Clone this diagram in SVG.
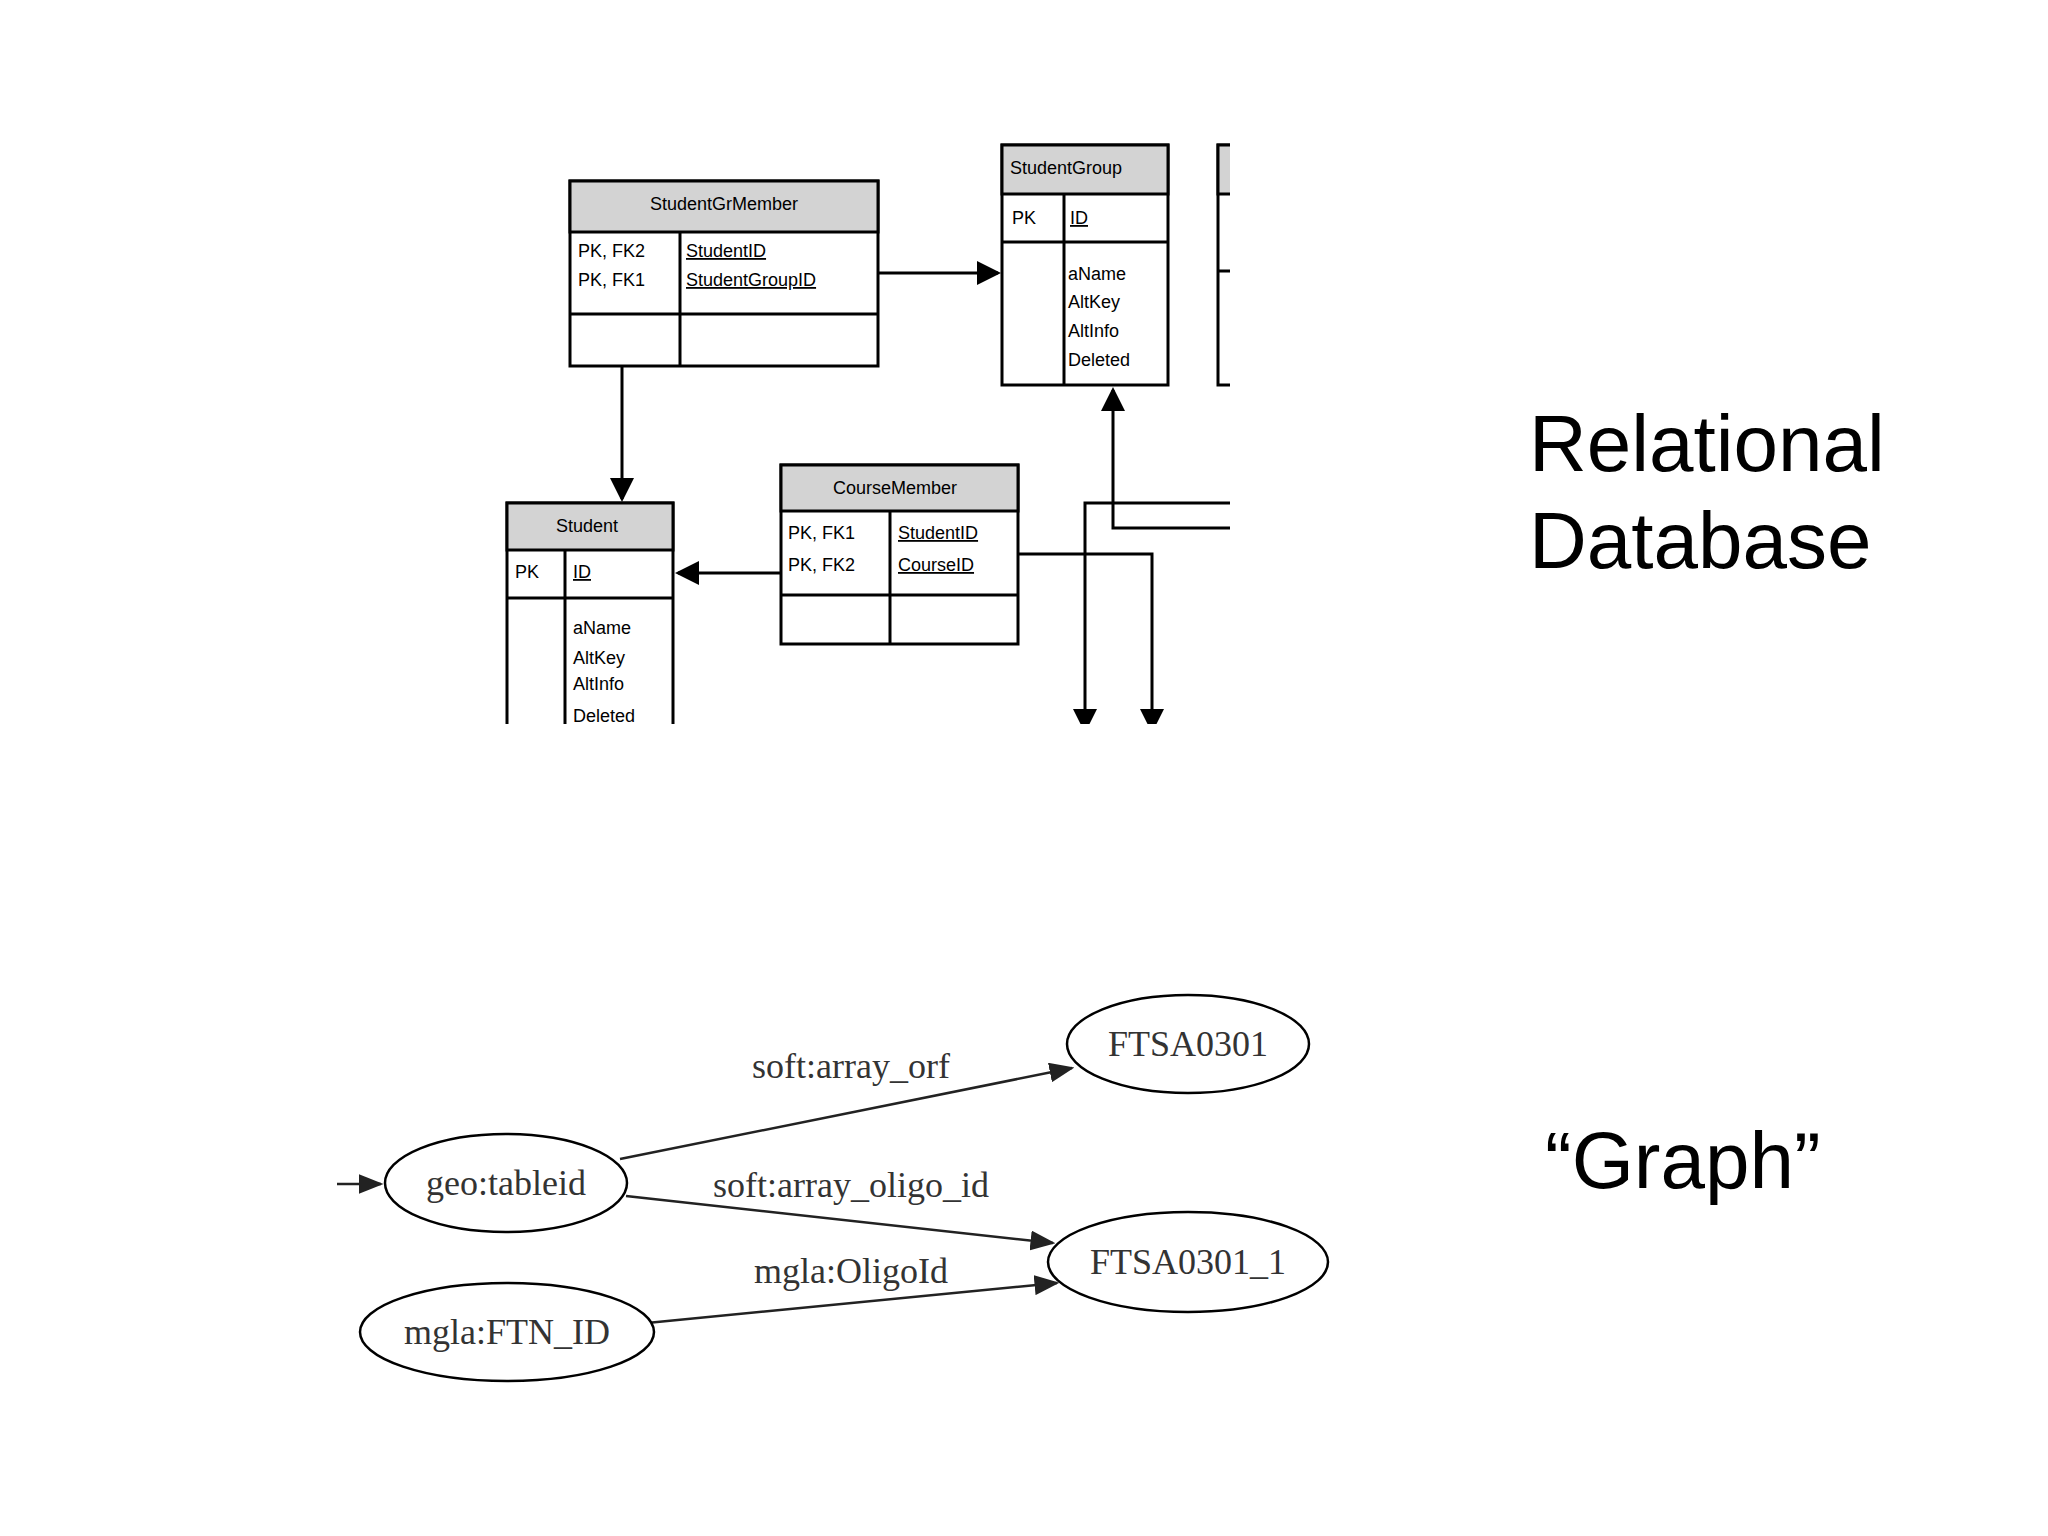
<svg xmlns="http://www.w3.org/2000/svg" width="2048" height="1536" viewBox="0 0 2048 1536">
<style>
.b{fill:#fff;stroke:#000;stroke-width:3}
.h{fill:#d3d3d3;stroke:#000;stroke-width:3}
.l{stroke:#000;stroke-width:3;fill:none}
.t{font-family:"Liberation Sans",Arial,sans-serif;font-size:18px;fill:#000}
.u{text-decoration:underline}
.e{fill:#fff;stroke:#000;stroke-width:2.5}
.g{font-family:"Liberation Serif","Times New Roman",serif;font-size:36px;fill:#333}
.gl{stroke:#222;stroke-width:2.5;fill:none}
.big{font-family:"Liberation Sans",Arial,sans-serif;font-size:80px;fill:#000}
</style>
<defs>
<marker id="a" markerWidth="8" markerHeight="8" refX="7" refY="4" orient="auto" markerUnits="strokeWidth"><path d="M0,0L8,4L0,8z" fill="#000"/></marker>
<marker id="ga" markerWidth="10" markerHeight="8" refX="9" refY="4" orient="auto" markerUnits="strokeWidth"><path d="M0,0L10,4L0,8z" fill="#222"/></marker>
<clipPath id="c"><rect x="0" y="0" width="1230" height="724"/></clipPath>
</defs>
<rect width="2048" height="1536" fill="#fff"/>
<g clip-path="url(#c)">
<g id="connectors">
<line class="l" x1="878" y1="273" x2="998" y2="273" marker-end="url(#a)"/>
<line class="l" x1="622" y1="366" x2="622" y2="499" marker-end="url(#a)"/>
<line class="l" x1="781" y1="573" x2="678" y2="573" marker-end="url(#a)"/>
<polyline class="l" points="1240,528 1113,528 1113,390" marker-end="url(#a)"/>
<polyline class="l" points="1240,503 1085,503 1085,730" marker-end="url(#a)"/>
<polyline class="l" points="1018,554 1152,554 1152,730" marker-end="url(#a)"/>
</g>
<g id="StudentGrMember">
<rect class="b" x="570" y="181" width="308" height="185"/>
<rect class="h" x="570" y="181" width="308" height="51"/>
<line class="l" x1="680" y1="232" x2="680" y2="366"/><line class="l" x1="570" y1="314" x2="878" y2="314"/>
<text class="t" x="724" y="210" text-anchor="middle">StudentGrMember</text>
<text class="t" x="578" y="257">PK, FK2</text><text class="t" x="578" y="286">PK, FK1</text>
<text class="t u" x="686" y="257">StudentID</text><text class="t u" x="686" y="286">StudentGroupID</text>
</g>
<g id="StudentGroup">
<rect class="b" x="1002" y="145" width="166" height="240"/>
<rect class="h" x="1002" y="145" width="166" height="49"/>
<line class="l" x1="1002" y1="242" x2="1168" y2="242"/><line class="l" x1="1064" y1="194" x2="1064" y2="385"/>
<text class="t" x="1010" y="174">StudentGroup</text>
<text class="t" x="1012" y="224">PK</text><text class="t u" x="1070" y="224">ID</text>
<text class="t" x="1068" y="280">aName</text><text class="t" x="1068" y="308">AltKey</text>
<text class="t" x="1068" y="337">AltInfo</text><text class="t" x="1068" y="366">Deleted</text>
</g>
<g id="Partial">
<rect class="b" x="1218" y="145" width="40" height="240"/>
<rect class="h" x="1218" y="145" width="40" height="49"/>
<line class="l" x1="1218" y1="271" x2="1258" y2="271"/>
</g>
<g id="Student">
<rect class="b" x="507" y="503" width="166" height="260"/>
<rect class="h" x="507" y="503" width="166" height="47"/>
<line class="l" x1="507" y1="598" x2="673" y2="598"/><line class="l" x1="565" y1="550" x2="565" y2="763"/>
<text class="t" x="587" y="532" text-anchor="middle">Student</text>
<text class="t" x="515" y="578">PK</text><text class="t u" x="573" y="578">ID</text>
<text class="t" x="573" y="634">aName</text><text class="t" x="573" y="664">AltKey</text>
<text class="t" x="573" y="690">AltInfo</text><text class="t" x="573" y="722">Deleted</text>
</g>
<g id="CourseMember">
<rect class="b" x="781" y="465" width="237" height="179"/>
<rect class="h" x="781" y="465" width="237" height="46"/>
<line class="l" x1="890" y1="511" x2="890" y2="644"/><line class="l" x1="781" y1="595" x2="1018" y2="595"/>
<text class="t" x="895" y="494" text-anchor="middle">CourseMember</text>
<text class="t" x="788" y="539">PK, FK1</text><text class="t" x="788" y="571">PK, FK2</text>
<text class="t u" x="898" y="539">StudentID</text><text class="t u" x="898" y="571">CourseID</text>
</g>
</g>
<text class="big" x="1529" y="471">Relational</text>
<text class="big" x="1529" y="568">Database</text>
<text class="big" x="1545" y="1188">“Graph”</text>
<g id="graph-edges">
<line class="gl" x1="337" y1="1184" x2="381" y2="1184" marker-end="url(#ga)"/>
<line class="gl" x1="620" y1="1159" x2="1072" y2="1068" marker-end="url(#ga)"/>
<line class="gl" x1="626" y1="1196" x2="1053" y2="1243" marker-end="url(#ga)"/>
<line class="gl" x1="647" y1="1323" x2="1057" y2="1283" marker-end="url(#ga)"/>
<text class="g" x="851" y="1078" text-anchor="middle">soft:array_orf</text>
<text class="g" x="851" y="1197" text-anchor="middle">soft:array_oligo_id</text>
<text class="g" x="851" y="1283" text-anchor="middle">mgla:OligoId</text>
</g>
<g id="geo"><ellipse class="e" cx="506" cy="1183" rx="121" ry="49"/><text class="g" x="506" y="1195" text-anchor="middle">geo:tableid</text></g>
<g id="FTSA0301"><ellipse class="e" cx="1188" cy="1044" rx="121" ry="49"/><text class="g" x="1188" y="1056" text-anchor="middle">FTSA0301</text></g>
<g id="FTSA0301_1"><ellipse class="e" cx="1188" cy="1262" rx="140" ry="50"/><text class="g" x="1188" y="1274" text-anchor="middle">FTSA0301_1</text></g>
<g id="FTN"><ellipse class="e" cx="507" cy="1332" rx="147" ry="49"/><text class="g" x="507" y="1344" text-anchor="middle">mgla:FTN_ID</text></g>
</svg>
